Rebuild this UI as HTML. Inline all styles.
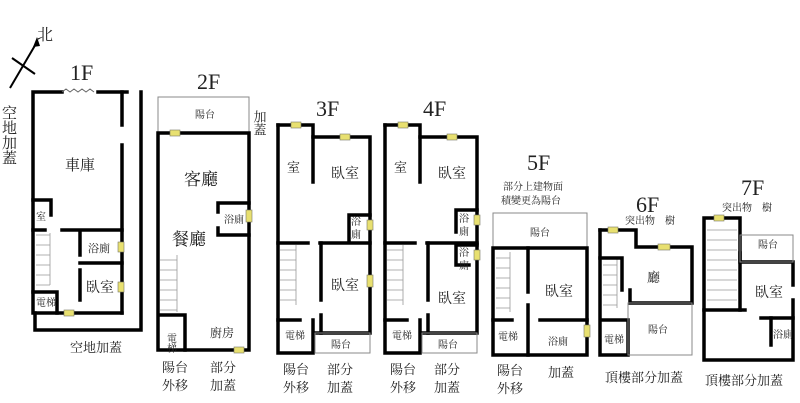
<!DOCTYPE html>
<html><head><meta charset="utf-8"><style>
html,body{margin:0;padding:0;background:#fff;}
svg{display:block;}
text{font-family:"Liberation Serif","Noto Serif CJK SC",serif;fill:#222;}
.w{fill:none;stroke:#000;stroke-width:3.5;stroke-linecap:square;}
.t{fill:none;stroke:#888;stroke-width:1;}
.s{fill:none;stroke:#999;stroke-width:0.8;}
.y{fill:#e8e070;stroke:#776;stroke-width:0.6;}
</style></head><body>
<svg width="800" height="403" viewBox="0 0 800 403" xmlns="http://www.w3.org/2000/svg">
<!-- north -->
<line x1="10" y1="88" x2="37" y2="42" stroke="#000" stroke-width="2"/>
<polygon points="37,37 33,47 40,46" fill="#000"/>
<line x1="12" y1="58" x2="35" y2="74" stroke="#000" stroke-width="2"/>
<text x="37" y="40" font-size="16">北</text>
<text x="8" y="105" font-size="15" writing-mode="tb">空地加蓋</text>

<!-- 1F -->
<text x="70" y="80" font-size="22">1F</text>
<polyline class="w" points="62,92 33,92 33,200 33,313 122,313"/>
<polyline class="w" points="98,92 127,92"/>
<path d="M62,92 l4,-3 4,3 4,-3 4,3 4,-3 4,3 4,-3 4,3" stroke="#666" fill="none"/>
<polyline class="w" points="122,92 122,125"/><polyline class="w" points="122,145 122,313"/>
<polyline class="w" points="141,92 141,330 35,330 35,313"/>
<polyline class="w" points="33,200 51,200 51,215"/>
<polyline class="w" points="33,230 45,230"/><polyline class="w" points="62,230 122,230"/>
<polyline class="w" points="80,233 80,255"/><polyline class="w" points="80,270 80,300"/>
<polyline class="w" points="80,263 122,263"/>
<polyline class="w" points="33,292 57,292 57,313"/>
<g class="s"><path d="M36,235h14M36,245h14M36,255h14M36,265h14M36,275h14M36,285h14M50,233v52"/></g>
<rect class="y" x="118" y="242" width="6" height="10"/><rect class="y" x="118" y="282" width="6" height="10"/><rect class="y" x="64" y="310" width="10" height="6"/>
<text x="65" y="170" font-size="15">車庫</text>
<text x="36" y="220" font-size="10">室</text>
<text x="88" y="252" font-size="11">浴廁</text>
<text x="86" y="292" font-size="14">臥室</text>
<text x="36" y="306" font-size="10">電梯</text>
<text x="70" y="352" font-size="13">空地加蓋</text>

<!-- 2F -->
<text x="197" y="89" font-size="22">2F</text>
<rect class="t" x="158" y="97" width="91" height="36"/>
<text x="195" y="118" font-size="10">陽台</text>
<text x="259" y="110" font-size="13" writing-mode="tb">加蓋</text>
<polyline class="w" points="158,133 158,350 249,350 249,133 158,133"/>
<polyline class="w" points="249,203 218,203 218,212"/><polyline class="w" points="218,228 218,235 249,235"/>
<polyline class="w" points="160,315 185,315 185,350"/>
<g class="s"><path d="M160,260h17M160,270h17M160,280h17M160,290h17M160,300h17M160,310h17M177,255v57"/></g>
<rect class="y" x="170" y="130" width="10" height="6"/><rect class="y" x="246" y="210" width="6" height="12"/><rect class="y" x="234" y="347" width="10" height="6"/>
<text x="184" y="185" font-size="17">客廳</text>
<text x="172" y="245" font-size="17">餐廳</text>
<text x="224" y="223" font-size="10">浴廁</text>
<text x="170" y="333" font-size="10" writing-mode="tb">電梯</text>
<text x="210" y="337" font-size="12">廚房</text>
<text x="162" y="372" font-size="13">陽台</text><text x="162" y="390" font-size="13">外移</text>
<text x="210" y="372" font-size="13">部分</text><text x="210" y="390" font-size="13">加蓋</text>

<!-- 3F & 4F -->
<g id="f3">
<text x="316" y="116" font-size="22">3F</text>
<polyline class="w" points="278,125 313,125 313,137 370,137 370,333 315,333"/>
<polyline class="w" points="313,137 313,182"/>
<polyline class="w" points="278,125 278,353 313,353 313,320"/>
<polyline class="w" points="278,243 308,243"/><polyline class="w" points="320,243 370,243"/>
<polyline class="w" points="321,243 321,300"/><polyline class="w" points="321,315 321,333"/>
<polyline class="w" points="370,215 349,215 349,240"/>
<polyline class="w" points="278,320 300,320"/>
<rect class="t" x="315" y="333" width="55" height="20"/>
<g class="s"><path d="M280,250h16M280,260h16M280,270h16M280,280h16M280,290h16M280,300h16M296,245v60"/></g>
<rect class="y" x="291" y="122" width="10" height="6"/><rect class="y" x="340" y="134" width="10" height="6"/><rect class="y" x="367" y="220" width="6" height="10"/><rect class="y" x="367" y="275" width="6" height="12"/>
<text x="287" y="172" font-size="13">室</text>
<text x="331" y="178" font-size="14">臥室</text>
<text x="351" y="225" font-size="10">浴</text><text x="351" y="238" font-size="10">廁</text>
<text x="331" y="290" font-size="14">臥室</text>
<text x="285" y="339" font-size="10">電梯</text>
<text x="331" y="348" font-size="10">陽台</text>
<text x="283" y="374" font-size="13">陽台</text><text x="283" y="392" font-size="13">外移</text>
<text x="327" y="374" font-size="13">部分</text><text x="327" y="392" font-size="13">加蓋</text>
</g>
<g transform="translate(107,0)">
<text x="316" y="116" font-size="22">4F</text>
<polyline class="w" points="278,125 313,125 313,137 370,137 370,333 315,333"/>
<polyline class="w" points="313,137 313,182"/>
<polyline class="w" points="278,125 278,353 313,353 313,320"/>
<polyline class="w" points="278,243 308,243"/><polyline class="w" points="320,243 370,243"/>
<polyline class="w" points="321,243 321,300"/><polyline class="w" points="321,315 321,333"/>
<polyline class="w" points="370,210 349,210 349,232"/>
<polyline class="w" points="370,245 349,245 349,265 362,265"/>
<polyline class="w" points="278,320 300,320"/>
<rect class="t" x="315" y="333" width="55" height="20"/>
<g class="s"><path d="M280,250h16M280,260h16M280,270h16M280,280h16M280,290h16M280,300h16M296,245v60"/></g>
<rect class="y" x="291" y="122" width="10" height="6"/><rect class="y" x="340" y="134" width="10" height="6"/><rect class="y" x="367" y="215" width="6" height="10"/><rect class="y" x="367" y="250" width="6" height="10"/>
<text x="287" y="172" font-size="13">室</text>
<text x="331" y="178" font-size="14">臥室</text>
<text x="352" y="222" font-size="10">浴</text><text x="352" y="235" font-size="10">廁</text>
<text x="352" y="256" font-size="10">浴</text><text x="352" y="269" font-size="10">廁</text>
<text x="331" y="303" font-size="14">臥室</text>
<text x="285" y="339" font-size="10">電梯</text>
<text x="331" y="348" font-size="10">陽台</text>
<text x="283" y="374" font-size="13">陽台</text><text x="283" y="392" font-size="13">外移</text>
<text x="327" y="374" font-size="13">部分</text><text x="327" y="392" font-size="13">加蓋</text>
</g>

<!-- 5F -->
<text x="527" y="170" font-size="22">5F</text>
<text x="503" y="190" font-size="10">部分上建物面</text>
<text x="501" y="204" font-size="10">積變更為陽台</text>
<rect class="t" x="493" y="213" width="94" height="35"/>
<text x="530" y="236" font-size="10">陽台</text>
<polyline class="w" points="493,248 587,248 587,355 493,355 493,248"/>
<polyline class="w" points="528,248 528,292"/><polyline class="w" points="528,305 528,355"/>
<polyline class="w" points="493,320 512,320"/><polyline class="w" points="540,320 587,320"/>
<g class="s"><path d="M496,258h14M496,268h14M496,278h14M496,288h14M496,298h14M496,308h14M510,252v60"/></g>
<rect class="y" x="584" y="325" width="6" height="12"/>
<text x="545" y="296" font-size="14">臥室</text>
<text x="498" y="340" font-size="10">電梯</text>
<text x="548" y="345" font-size="10">浴廁</text>
<text x="497" y="375" font-size="13">陽台</text><text x="497" y="393" font-size="13">外移</text>
<text x="548" y="377" font-size="13">加蓋</text>

<!-- 6F -->
<text x="636" y="212" font-size="22">6F</text>
<text x="625" y="224" font-size="10">突出物　樹</text>
<polyline class="w" points="600,230 636,230 636,247 692,247 692,303 630,303 630,290"/>
<polyline class="w" points="600,230 600,355 628,355 628,320 600,320"/>
<rect class="t" x="628" y="303" width="64" height="52" style="fill:none"/>
<g class="s"><path d="M603,265h14M603,275h14M603,285h14M603,295h14M603,305h14M617,258v50"/></g>
<polyline class="w" points="600,258 622,258 622,290"/>
<rect class="y" x="608" y="227" width="10" height="6"/><rect class="y" x="658" y="244" width="12" height="6"/>
<text x="647" y="282" font-size="13">廳</text>
<text x="648" y="333" font-size="10">陽台</text>
<text x="604" y="343" font-size="10">電梯</text>
<text x="605" y="382" font-size="13">頂樓部分加蓋</text>

<!-- 7F -->
<text x="741" y="195" font-size="22">7F</text>
<text x="722" y="211" font-size="10">突出物　樹</text>
<polyline class="w" points="704,218 740,218 740,310 704,310 704,218"/>
<polyline class="w" points="704,310 704,360 793,360 793,300"/>
<polyline class="w" points="740,253 740,262 793,262 793,285"/>
<rect class="t" x="740" y="235" width="53" height="27" style="fill:none"/>
<polyline class="w" points="740,310 745,310"/>
<polyline class="w" points="761,318 793,318"/><polyline class="w" points="771,318 771,345"/>
<g class="s"><path d="M707,230h30M707,240h30M707,250h30M707,260h30M707,270h30M707,280h30M707,290h30M707,300h30"/></g>
<rect class="y" x="714" y="215" width="10" height="6"/>
<text x="758" y="248" font-size="10">陽台</text>
<text x="755" y="297" font-size="14">臥室</text>
<text x="773" y="338" font-size="10">浴廁</text>
<text x="705" y="385" font-size="13">頂樓部分加蓋</text>
</svg>
</body></html>
